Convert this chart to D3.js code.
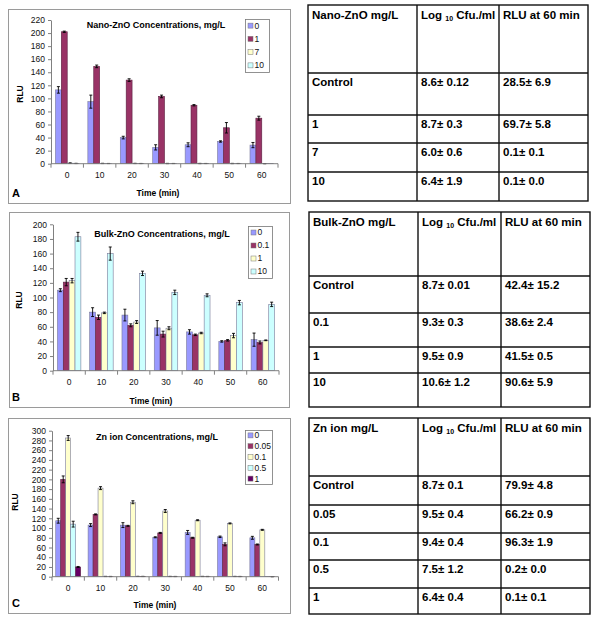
<!DOCTYPE html>
<html><head><meta charset="utf-8">
<script src="https://cdn.jsdelivr.net/npm/d3@7"></script>
<style>body{margin:0;background:#fff}svg{display:block;font-family:"Liberation Sans",Arial,sans-serif}</style>
</head><body><svg id="c" width="600" height="625"></svg>
<script>
// ---------- DATA ----------
const times = [0, 10, 20, 30, 40, 50, 60];

const nanoSeries = ["0", "1", "7", "10"];
const nanoValues = [
  [113, 95, 40, 25, 29, 34, 28.5],
  [202, 149, 128, 103, 89.5, 55, 69.7],
  [0.8, 0.4, 0.4, 0.3, 0.3, 0.3, 0.1],
  [0.4, 0.3, 0.3, 0.3, 0.3, 0.3, 0.1]
];
const nanoErrors = [
  [5, 10, 2, 4, 3, 1, 4],
  [1, 2, 2, 2, 1, 8, 3],
  [0.5, 0.2, 0.2, 0.2, 0.2, 0.2, 0.1],
  [0.2, 0.1, 0.1, 0.1, 0.1, 0.1, 0]
];
const nanoTicks = d3.range(0, 221, 20);

const bulkSeries = ["0", "0.1", "1", "10"];
const bulkValues = [
  [110, 80, 76, 58.5, 53, 40, 42.4],
  [121, 73, 62, 50, 49, 41.5, 38.6],
  [123, 79, 66.5, 58, 51.5, 48, 41.5],
  [183, 160, 133, 107, 103, 93, 90.6]
];
const bulkErrors = [
  [2, 6, 8, 10, 3, 1, 9],
  [5, 3, 2, 4, 1, 1, 2],
  [3, 1, 2, 2, 1, 3, 0.5],
  [6, 9, 3, 3, 2, 3, 3]
];
const bulkTicks = d3.range(0, 201, 20);

const ionSeries = ["0", "0.05", "0.1", "0.5", "1"];
const ionValues = [
  [115, 106, 106, 81, 91, 82, 79.9],
  [200, 128, 104.5, 90, 80, 66.5, 66.2],
  [285, 182, 153, 135, 116, 109.5, 96.3],
  [108, 0.5, 0.6, 0.5, 0.5, 0.5, 0.2],
  [20, 0.4, 0.5, 0.4, 0.4, 0.4, 0.1]
];
const ionErrors = [
  [5, 3, 5, 1, 4, 1.5, 3],
  [7, 1, 1, 1, 1, 3, 1],
  [5, 3, 3, 3, 1, 1, 1],
  [6, 0.2, 0.2, 0.2, 0.2, 0.2, 0],
  [1, 0.2, 0.2, 0.2, 0.2, 0.2, 0.1]
];
const ionTicks = d3.range(0, 301, 20);

const seriesColors = ["#9999FF", "#993366", "#FFFFCC", "#CCFFFF", "#660066"];

const nanoTitle = "Nano-ZnO Concentrations, mg/L";
const bulkTitle = "Bulk-ZnO Concentrations, mg/L";
const ionTitle = "Zn ion Concentrations, mg/L";

const nanoTableHead = ["Nano-ZnO mg/L", "Log", "RLU at 60 min"];
const nanoTableRows = [
  ["Control", "8.6± 0.12", "28.5± 6.9"],
  ["1", "8.7± 0.3", "69.7± 5.8"],
  ["7", "6.0± 0.6", "0.1± 0.1"],
  ["10", "6.4± 1.9", "0.1± 0.0"]
];
const bulkTableHead = ["Bulk-ZnO mg/L", "Log", "RLU at 60 min"];
const bulkTableRows = [
  ["Control", "8.7± 0.01", "42.4± 15.2"],
  ["0.1", "9.3± 0.3", "38.6± 2.4"],
  ["1", "9.5± 0.9", "41.5± 0.5"],
  ["10", "10.6± 1.2", "90.6± 5.9"]
];
const ionTableHead = ["Zn ion mg/L", "Log", "RLU at 60 min"];
const ionTableRows = [
  ["Control", "8.7± 0.1", "79.9± 4.8"],
  ["0.05", "9.5± 0.4", "66.2± 0.9"],
  ["0.1", "9.4± 0.4", "96.3± 1.9"],
  ["0.5", "7.5± 1.2", "0.2± 0.0"],
  ["1", "6.4± 0.4", "0.1± 0.1"]
];

// ---------- DRAW ----------
const svg = d3.select("#c");
svg.append("rect").attr("width", 600).attr("height", 625).attr("fill", "#fff");

function panel(cfg) {
  const g = svg.append("g");
  g.append("rect").attr("x", cfg.frame[0] + 0.5).attr("y", cfg.frame[1] + 0.5)
    .attr("width", cfg.frame[2] - cfg.frame[0]).attr("height", cfg.frame[3] - cfg.frame[1])
    .attr("fill", "#fff").attr("stroke", "#9a9a9a").attr("stroke-width", 1);

  const x = d3.scaleBand().domain(times).range([cfg.x0, cfg.x1]);
  const y = d3.scaleLinear().domain([0, d3.max(cfg.ticks)]).range([cfg.yZero, cfg.yTop]);
  const n = cfg.series.length;
  const bw = x.bandwidth() / (n + 1.5);
  const inner = d3.scaleBand().domain(d3.range(n)).range([0, bw * n]);
  const off = (x.bandwidth() - bw * n) / 2;

  // y axis
  const ya = g.append("g").attr("transform", `translate(${cfg.x0},0)`)
    .call(d3.axisLeft(y).tickValues(cfg.ticks).tickSize(3).tickPadding(3).tickSizeOuter(0));
  ya.select(".domain").attr("stroke", "#808080");
  ya.selectAll(".tick line").attr("stroke", "#808080");
  ya.selectAll("text").attr("font-size", 8.5).attr("fill", "#111").attr("font-family", "Liberation Sans, Arial");

  // bars
  cfg.series.forEach((s, i) => {
    const vals = cfg.values[i], errs = cfg.errors[i];
    const sg = g.append("g");
    sg.selectAll("rect").data(times).join("rect")
      .attr("x", (t) => x(t) + off + inner(i))
      .attr("width", bw)
      .attr("y", (t, j) => y(vals[j]))
      .attr("height", (t, j) => Math.max(0, y(0) - y(vals[j])))
      .attr("fill", seriesColors[i])
      .attr("stroke", i === 1 || i === 4 ? "#5a2040" : "#7a7a9a")
      .attr("stroke-width", 0.6);
    // error bars
    const eg = g.append("g").attr("stroke", "#000").attr("stroke-width", 0.9);
    times.forEach((t, j) => {
      const cx = x(t) + off + inner(i) + bw / 2;
      const v = vals[j], e = errs[j];
      if (e <= 0) return;
      const yt = y(v + e), yb = y(Math.max(0, v - e));
      eg.append("line").attr("x1", cx).attr("x2", cx).attr("y1", yt).attr("y2", yb);
      eg.append("line").attr("x1", cx - 1.5).attr("x2", cx + 1.5).attr("y1", yt).attr("y2", yt);
      eg.append("line").attr("x1", cx - 1.5).attr("x2", cx + 1.5).attr("y1", yb).attr("y2", yb);
    });
  });

  // x axis
  const xa = g.append("g").attr("transform", `translate(0,${cfg.yZero})`);
  xa.append("line").attr("x1", cfg.x0).attr("x2", cfg.x1).attr("stroke", "#808080");
  const bounds = times.map((t) => x(t)).concat([cfg.x1]);
  xa.selectAll("line.tk").data(bounds).join("line").attr("class", "tk")
    .attr("x1", (d) => d).attr("x2", (d) => d).attr("y1", 0).attr("y2", 4).attr("stroke", "#808080");
  xa.selectAll("text").data(times).join("text")
    .attr("x", (t) => x(t) + x.bandwidth() / 2).attr("y", 14)
    .attr("text-anchor", "middle").attr("font-size", 8.5).attr("fill", "#111")
    .text((t) => t);

  // titles
  g.append("text").attr("x", cfg.title[0]).attr("y", cfg.title[1]).attr("text-anchor", "middle")
    .attr("font-size", 9).attr("font-weight", "bold").text(cfg.titleText);
  g.append("text").attr("x", cfg.xlab[0]).attr("y", cfg.xlab[1]).attr("text-anchor", "middle")
    .attr("font-size", 8.5).attr("font-weight", "bold").text("Time (min)");
  g.append("text").attr("transform", `translate(${cfg.ylab[0]},${cfg.ylab[1]}) rotate(-90)`)
    .attr("text-anchor", "middle").attr("dy", "0.35em")
    .attr("font-size", 8.5).attr("font-weight", "bold").text("RLU");
  g.append("text").attr("x", 12).attr("y", cfg.letterY).attr("font-size", 11)
    .attr("font-weight", "bold").text(cfg.letter);

  // legend
  const L = cfg.legend; // [x0,y0,x1,y1]
  g.append("rect").attr("x", L[0] + 0.5).attr("y", L[1] + 0.5).attr("width", L[2] - L[0]).attr("height", L[3] - L[1])
    .attr("fill", "#fff").attr("stroke", "#777").attr("stroke-width", 0.8);
  const step = (L[3] - L[1]) / n;
  cfg.series.forEach((s, i) => {
    const cy = L[1] + step * (i + 0.5);
    g.append("rect").attr("x", L[0] + 3).attr("y", cy - 2.5).attr("width", 5).attr("height", 5)
      .attr("fill", seriesColors[i]).attr("stroke", "#777").attr("stroke-width", 0.5);
    g.append("text").attr("x", L[0] + 9.5).attr("y", cy).attr("dy", "0.35em")
      .attr("font-size", 8.5).attr("fill", "#111").text(s);
  });
}

panel({ frame: [8, 9, 290, 203], x0: 51, x1: 278, yZero: 163.7, yTop: 20, ticks: nanoTicks,
  series: nanoSeries, values: nanoValues, errors: nanoErrors, titleText: nanoTitle,
  title: [156, 28], xlab: [158, 195.5], ylab: [20, 94], letter: "A", letterY: 197, legend: [245, 19, 269, 72] });
panel({ frame: [9, 212, 289, 407], x0: 53, x1: 279, yZero: 370.7, yTop: 224.3, ticks: bulkTicks,
  series: bulkSeries, values: bulkValues, errors: bulkErrors, titleText: bulkTitle,
  title: [162, 237], xlab: [151, 404], ylab: [19, 300], letter: "B", letterY: 401, legend: [248, 226, 272, 278] });
panel({ frame: [8, 418, 290, 613], x0: 52, x1: 278.5, yZero: 576.7, yTop: 430.7, ticks: ionTicks,
  series: ionSeries, values: ionValues, errors: ionErrors, titleText: ionTitle,
  title: [157, 440], xlab: [155, 608], ylab: [15.5, 502], letter: "C", letterY: 607, legend: [245, 430, 272, 484] });

function table(head, rows, cols, rowLines) {
  const g = svg.append("g");
  const left = cols[0], right = cols[cols.length - 1];
  const top = rowLines[0], bottom = rowLines[rowLines.length - 1];
  g.append("rect").attr("x", left).attr("y", top).attr("width", right - left).attr("height", bottom - top)
    .attr("fill", "none").attr("stroke", "#111").attr("stroke-width", 1.4);
  rowLines.slice(1, -1).forEach((yy) => g.append("line").attr("x1", left).attr("x2", right)
    .attr("y1", yy).attr("y2", yy).attr("stroke", "#111").attr("stroke-width", 1.4));
  cols.slice(1, -1).forEach((xx) => g.append("line").attr("x1", xx).attr("x2", xx)
    .attr("y1", top).attr("y2", bottom).attr("stroke", "#111").attr("stroke-width", 1.4));
  const tx = (c) => cols[c] + 4;
  // header
  g.append("text").attr("x", tx(0)).attr("y", top + 14).attr("font-size", 11.5).attr("font-weight", "bold").text(head[0]);
  const lg = g.append("text").attr("x", tx(1)).attr("y", top + 14).attr("font-size", 11.5).attr("font-weight", "bold");
  lg.append("tspan").text(head[1] + " ");
  lg.append("tspan").attr("font-size", 7).attr("dy", 2).text("10");
  lg.append("tspan").attr("dy", -2).text(" Cfu./ml");
  g.append("text").attr("x", tx(2)).attr("y", top + 14).attr("font-size", 11.5).attr("font-weight", "bold").text(head[2]);
  rows.forEach((r, i) => {
    r.forEach((cell, c) => {
      g.append("text").attr("x", tx(c)).attr("y", rowLines[i + 1] + 13).attr("font-size", 11.5)
        .attr("font-weight", "bold").text(cell);
    });
  });
}

table(nanoTableHead, nanoTableRows, [308, 417, 499, 588], [5, 73, 115, 143, 172, 201]);
table(bulkTableHead, bulkTableRows, [309, 418, 501, 590], [212, 276, 313, 347, 373, 407]);
table(ionTableHead, ionTableRows, [309, 418, 501, 590], [418, 476, 505, 533, 560, 588, 614]);
</script></body></html>
